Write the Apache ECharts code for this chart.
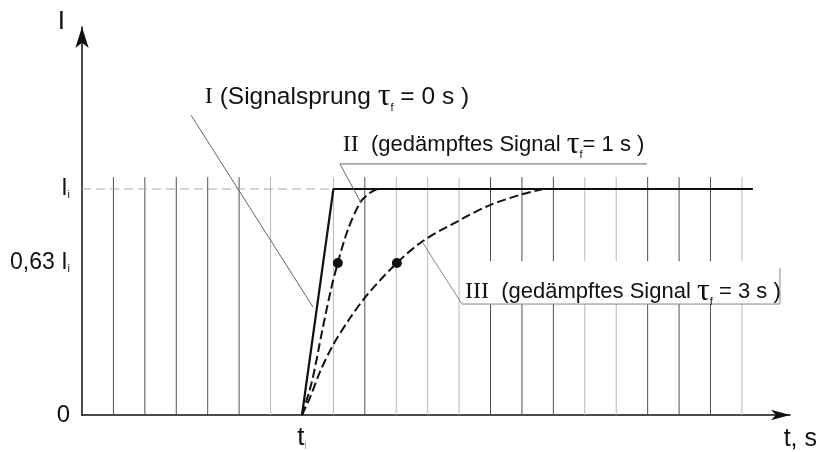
<!DOCTYPE html>
<html><head><meta charset="utf-8">
<script src="https://cdn.jsdelivr.net/npm/echarts@6/dist/echarts.min.js"></script>
<style>html,body{margin:0;background:#fff}#c{width:821px;height:452px}</style>
</head><body><div id="c"></div>
<script>
const SANS = '"Liberation Sans",Arial,sans-serif';
const SERIF = '"Liberation Serif","DejaVu Serif",serif';

// axis ranges (x in grid units, y in units of I_i)
const xMax = 22.53;
const yMax = 1.717;
const gridTop = 1.053;
// tick values
const yTickValues = [0, 0.673, 1];
const yTickTexts = ['0', '{a|0,63 I}{s|i}', '{a|I}{s|i}'];
const xTickValues = [7];
const xTickTexts = ['{a|t}{s|i}'];
// background vertical lines
const darkGridX = [1, 2, 3, 4, 5, 9, 13, 14, 15, 18, 19, 20];
const lightGridX = [6, 8, 10, 11, 12, 16, 17, 21];
// curves
const curveI = [[7, 0], [8, 1], [21.35, 1]];
const curveII = [[7, 0], [7.32, 0.15], [7.64, 0.37], [7.93, 0.56], [8.14, 0.673], [8.46, 0.82], [8.85, 0.94], [9.13, 0.98], [9.39, 1]];
const curveIII = [[7, 0], [7.25, 0.075], [7.57, 0.19], [7.99, 0.31], [8.53, 0.429], [9.07, 0.531], [10.02, 0.673], [10.85, 0.77], [12.03, 0.863], [12.98, 0.929], [14.03, 0.978], [14.67, 1]];
const dotPoints = [[8.14, 0.673], [10.02, 0.673]];
const refLine = [[0, 1], [8, 1]];
// annotations
const leaderI = [[3.47, 1.327], [7.35, 0.478]];
const leaderII = [[8.88, 0.938], [8.21, 1.111], [17.98, 1.111]];
const leaderIII = [[10.85, 0.761], [12.09, 0.491], [22.21, 0.491], [22.21, 0.65]];
const boxIII = [[12.09, 0.491, 22.21, 0.68]];
const labelAnchors = [[3.91, 1.407], [8.30, 1.195], [12.19, 0.546]];
const labelTexts = [
  '{r|I}{a| (Signalsprung }{tau|τ}{sub|f}{a| = 0 s )}',
  '{r|II}{b|  (gedämpftes Signal }{tau|τ}{sub|f}{b|= 1 s )}',
  '{r|III}{b|  (gedämpftes Signal }{tau|τ}{sub|f}{b| = 3 s )}'
];

const INK = '#111';
const chart = echarts.init(document.getElementById('c'));

function vLines(xs, color) {
  return {
    type: 'custom', z: 1, silent: true,
    data: xs.map(x => [x, gridTop]),
    encode: { x: 0, y: 1 },
    renderItem: (params, api) => {
      const x = api.value(0);
      const p0 = api.coord([x, 0]);
      const p1 = api.coord([x, api.value(1)]);
      return { type: 'line', shape: { x1: p0[0], y1: p0[1], x2: p1[0], y2: p1[1] }, style: { stroke: color, lineWidth: 1 } };
    }
  };
}

const rich = {
  r: { fontFamily: SERIF, fontSize: 24, color: INK },
  a: { fontFamily: SANS, fontSize: 24.5, color: INK },
  b: { fontFamily: SANS, fontSize: 22, color: INK },
  tau: { fontFamily: SERIF, fontSize: 32, color: INK },
  sub: { fontFamily: SANS, fontSize: 11, color: INK, verticalAlign: 'bottom' }
};

chart.setOption({
  animation: false,
  backgroundColor: '#fff',
  grid: { left: 82, right: 31, top: 27, bottom: 37 },
  xAxis: {
    type: 'value', min: 0, max: xMax,
    name: 't, s', nameLocation: 'end', nameGap: 27,
    nameTextStyle: { fontFamily: SANS, fontSize: 25, color: INK, align: 'right', verticalAlign: 'top', padding: [12, 0, 0, 0] },
    axisLine: { show: true, symbol: ['none', 'arrow'], symbolSize: [8, 19], lineStyle: { color: INK, width: 1.5 } },
    axisTick: { show: false },
    splitLine: { show: false },
    axisLabel: {
      customValues: xTickValues, margin: 10,
      formatter: v => xTickTexts[xTickValues.indexOf(v)] || '',
      rich: { a: { fontFamily: SANS, fontSize: 26, color: INK }, s: { fontFamily: SANS, fontSize: 10, color: '#999', verticalAlign: 'bottom' } }
    }
  },
  yAxis: {
    type: 'value', min: 0, max: yMax,
    name: 'I', nameLocation: 'end', nameGap: 5,
    nameTextStyle: { fontFamily: SANS, fontSize: 26, color: INK, align: 'right', verticalAlign: 'middle', padding: [0, 17, 0, 0] },
    axisLine: { show: true, symbol: ['none', 'arrow'], symbolSize: [10, 21], lineStyle: { color: INK, width: 1.5 } },
    axisTick: { show: false },
    splitLine: { show: false },
    axisLabel: {
      customValues: yTickValues, margin: 12,
      formatter: v => yTickTexts[yTickValues.indexOf(v)] || '',
      fontFamily: SANS, fontSize: 24, color: INK,
      rich: { a: { fontFamily: SANS, fontSize: 23, color: INK }, s: { fontFamily: SANS, fontSize: 11, color: INK, verticalAlign: 'bottom' } }
    }
  },
  series: [
    vLines(lightGridX, '#b8b8b8'),
    vLines(darkGridX, '#505050'),
    { type: 'line', z: 2, data: refLine, symbol: 'none', lineStyle: { color: '#aaa', width: 1, type: [9, 5] } },
    { type: 'line', z: 3, data: curveI, symbol: 'none', lineStyle: { color: INK, width: 2.2 } },
    { type: 'line', z: 3, data: curveII, symbol: 'none', smooth: 0.3, lineStyle: { color: INK, width: 2, type: [9, 4] } },
    { type: 'line', z: 3, data: curveIII, symbol: 'none', smooth: 0.3, lineStyle: { color: INK, width: 2, type: [9, 4] } },
    { type: 'scatter', z: 4, data: dotPoints, symbolSize: 10, itemStyle: { color: INK, opacity: 1 } },
    {
      type: 'custom', z: 5, silent: true,
      data: boxIII, encode: { x: [0, 2], y: [1, 3] },
      renderItem: (params, api) => {
        const p0 = api.coord([api.value(0), api.value(3)]);
        const p1 = api.coord([api.value(2), api.value(1)]);
        return { type: 'rect', shape: { x: p0[0], y: p0[1], width: p1[0] - p0[0], height: p1[1] - p0[1] }, style: { fill: '#fff' } };
      }
    },
    { type: 'line', z: 6, data: leaderI, symbol: 'none', lineStyle: { color: '#666', width: 1 } },
    { type: 'line', z: 6, data: leaderII, symbol: 'none', lineStyle: { color: '#666', width: 1 } },
    { type: 'line', z: 6, data: leaderIII, symbol: 'none', lineStyle: { color: '#888', width: 1 } },
    {
      type: 'scatter', z: 7, symbolSize: 0, silent: true,
      itemStyle: { opacity: 1 },
      data: labelAnchors,
      label: {
        show: true, position: 'right', distance: 0, color: INK, opacity: 1,
        formatter: p => labelTexts[p.dataIndex],
        rich: rich
      }
    }
  ]
});
</script></body></html>
